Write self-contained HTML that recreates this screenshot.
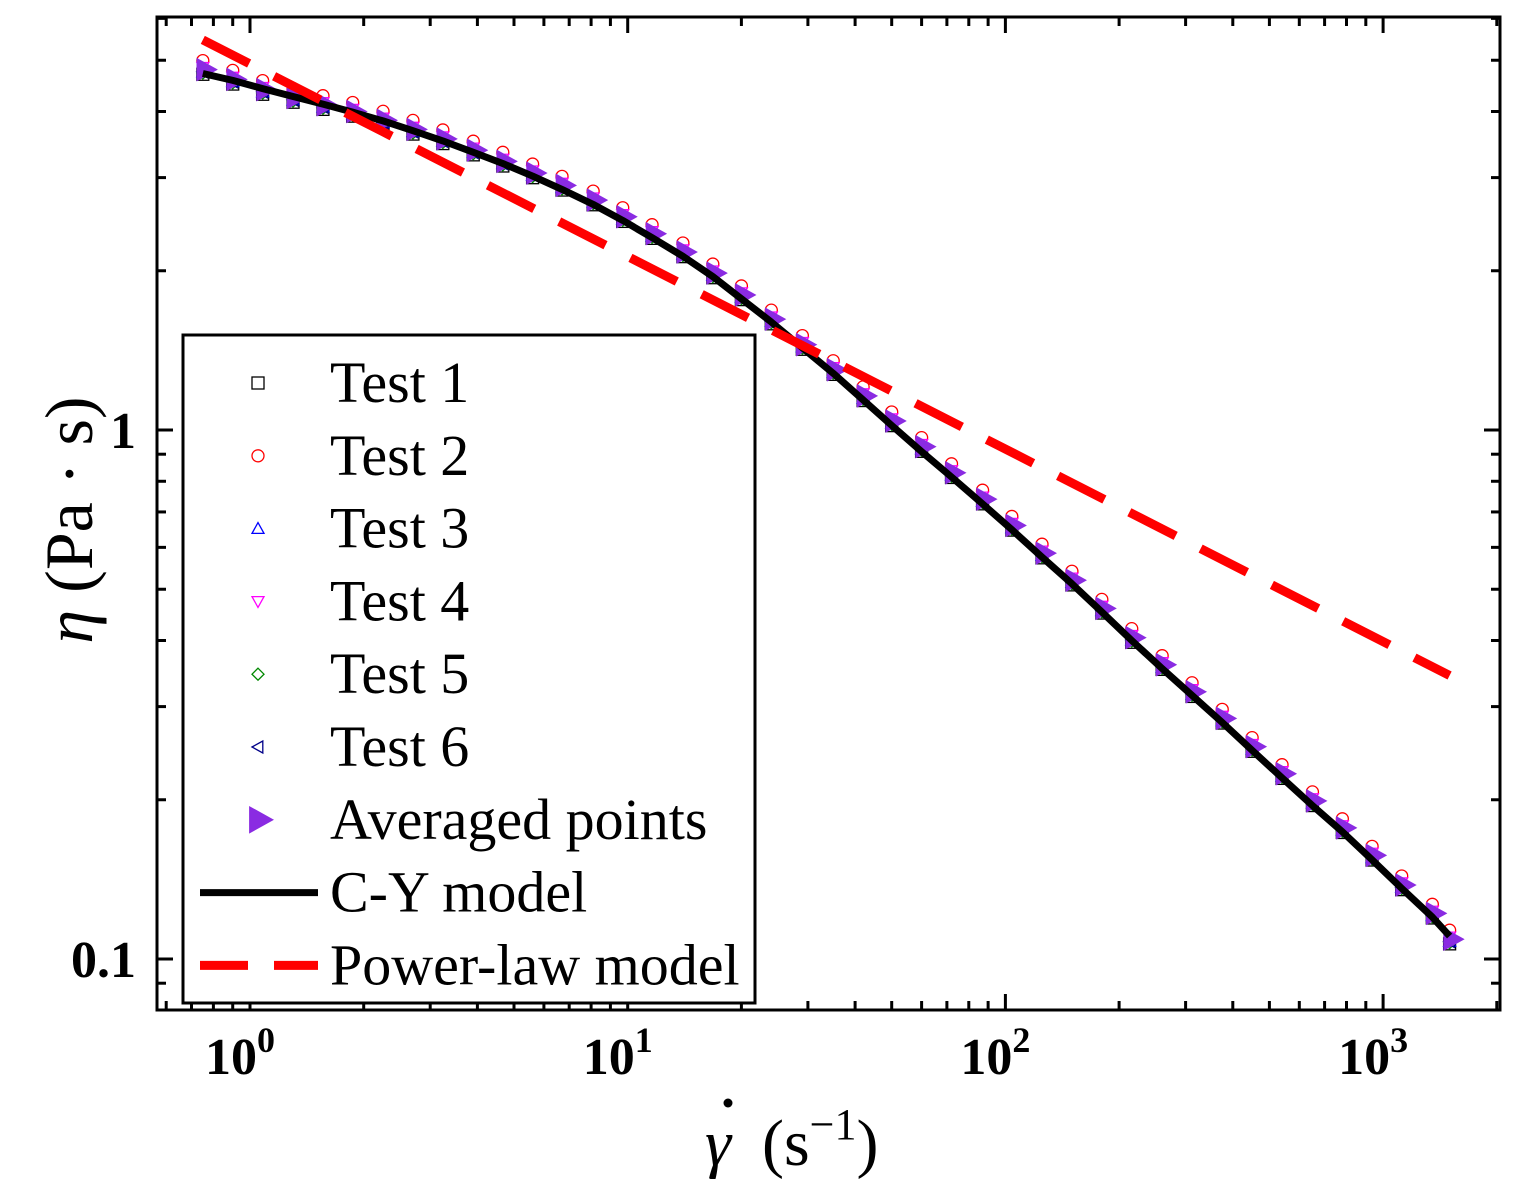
<!DOCTYPE html>
<html><head><meta charset="utf-8"><style>
body{margin:0;background:#fff}svg{display:block}
text{font-family:"Liberation Serif",serif}
</style></head><body>
<svg id="chart" width="1525" height="1203" xmlns="http://www.w3.org/2000/svg"></svg>
<script>
const shearRates=[0.75,0.9,1.08,1.3,1.56,1.87,2.25,2.7,3.24,3.9,4.67,5.6,6.7,8.1,9.7,11.6,14,16.8,20,24,29,35,42,50,60,72,87,104,125,150,180,216,260,312,375,450,540,650,780,935,1120,1350,1500];
const avgViscosity=[4.8,4.6,4.4,4.25,4.12,4.0,3.85,3.7,3.55,3.38,3.22,3.06,2.9,2.72,2.53,2.35,2.17,1.98,1.80,1.62,1.45,1.30,1.16,1.04,0.93,0.83,0.74,0.66,0.585,0.52,0.46,0.405,0.36,0.32,0.285,0.252,0.224,0.199,0.177,0.157,0.138,0.122,0.109];
const cyViscosity=[4.72,4.58,4.42,4.27,4.13,3.99,3.84,3.68,3.52,3.35,3.19,3.02,2.85,2.67,2.49,2.31,2.13,1.95,1.77,1.60,1.43,1.28,1.14,1.02,0.91,0.815,0.725,0.648,0.575,0.512,0.453,0.4,0.354,0.315,0.28,0.248,0.22,0.195,0.174,0.154,0.136,0.12,0.1105];
const testFactors=[0.98,1.04,0.99,1.01,0.985,0.99];
const powerLawK=[4.92];
const powerLawN=[0.636];
const powerLawRange=[0.75,1500];
const xTicks=[1,10,100,1000];
const xTickExp=["0","1","2","3"];
const yTicks=[0.1,1];
const yTickLabels=["0.1","1"];
const legendLabels=["Test 1","Test 2","Test 3","Test 4","Test 5","Test 6","Averaged points","C-Y model","Power-law model"];

const L=157,R=1500,T=17,B=1010;
const xs=v=>250+Math.log10(v)*377.7;
const ys=v=>430-Math.log10(v)*529;
const svg=document.getElementById('chart');
const NS='http://www.w3.org/2000/svg';
function mk(tag,attrs,parent){const e=document.createElementNS(NS,tag);for(const k in attrs)e.setAttribute(k,attrs[k]);(parent||svg).appendChild(e);return e;}

const tickG=mk('g',{});


for(let d=-1;d<=3;d++){for(let m=1;m<10;m++){const v=m*Math.pow(10,d);const x=xs(v);if(x<L||x>R)continue;const len=m===1?16:9;
mk('line',{x1:x,x2:x,y1:B,y2:B-len,stroke:'#000','stroke-width':3},tickG);mk('line',{x1:x,x2:x,y1:T,y2:T+len,stroke:'#000','stroke-width':3},tickG);}}
for(let d=-2;d<=1;d++){for(let m=1;m<10;m++){const v=m*Math.pow(10,d);const y=ys(v);if(y<T||y>B)continue;const len=m===1?16:9;
mk('line',{x1:L,x2:L+len,y1:y,y2:y,stroke:'#000','stroke-width':3},tickG);mk('line',{x1:R,x2:R-len,y1:y,y2:y,stroke:'#000','stroke-width':3},tickG);}}

xTicks.forEach((v,i)=>{const t=mk('text',{x:xs(v)-10,y:1074,'font-size':52,'font-weight':'bold','text-anchor':'middle'});


t.textContent='10';const s=mk('tspan',{dy:-22,'font-size':36},t);s.textContent=xTickExp[i];});
yTicks.forEach((v,i)=>{const t=mk('text',{x:136,y:ys(v)+18,'font-size':52,'font-weight':'bold','text-anchor':'end'});


t.textContent=yTickLabels[i];});

const xt=mk('g',{});


const g1=mk('text',{x:705,y:1165,'font-size':66,'font-style':'italic'},xt);g1.textContent='γ';
mk('circle',{cx:728,cy:1103,r:4.5,fill:'#000'},xt);
const g3=mk('text',{x:762,y:1165,'font-size':66},xt);g3.innerHTML='(s<tspan dy="-26" font-size="44">−1</tspan><tspan dy="26">)</tspan>';
const yt=mk('text',{x:0,y:0,'font-size':68,'text-anchor':'middle',transform:'translate(92,520) rotate(-90)'});


yt.innerHTML='<tspan font-style="italic">η</tspan> (Pa · s)';

const defs=mk('defs',{});const cp=mk('clipPath',{id:'clip'},defs);mk('rect',{x:L,y:T,width:R-L,height:B-T},cp);
const plot=mk('g',{'clip-path':'url(#clip)'});

function marker(g,type,x,y,color,size){
 const s=size||6;
 if(type==='square')return mk('rect',{x:x-s,y:y-s,width:2*s,height:2*s,fill:'none',stroke:color,'stroke-width':1.3},g);
 if(type==='circle')return mk('circle',{cx:x,cy:y,r:s,fill:'none',stroke:color,'stroke-width':1.3},g);
 if(type==='up')return mk('polygon',{points:`${x},${y-s} ${x-s},${y+s*0.8} ${x+s},${y+s*0.8}`,fill:'none',stroke:color,'stroke-width':1.3},g);
 if(type==='down')return mk('polygon',{points:`${x},${y+s} ${x-s},${y-s*0.8} ${x+s},${y-s*0.8}`,fill:'none',stroke:color,'stroke-width':1.3},g);
 if(type==='diamond')return mk('polygon',{points:`${x},${y-s} ${x+s},${y} ${x},${y+s} ${x-s},${y}`,fill:'none',stroke:color,'stroke-width':1.3},g);
 if(type==='left')return mk('polygon',{points:`${x-s},${y} ${x+s*0.8},${y-s} ${x+s*0.8},${y+s}`,fill:'none',stroke:color,'stroke-width':1.3},g);
 if(type==='right')return mk('polygon',{points:`${x+s},${y} ${x-s*0.8},${y-s} ${x-s*0.8},${y+s}`,fill:color,stroke:color,'stroke-width':1},g);
}
const types=['square','circle','up','down','diamond','left'];
const colors=['#000','#f00','#00f','#f0f','#080','#008'];
types.forEach((tp,k)=>{const g=mk('g',{},plot);
 
 
 shearRates.forEach((x,i)=>{marker(g,tp,xs(x),ys(avgViscosity[i]*testFactors[k]),colors[k],6);});});
const ag=mk('g',{},plot);


shearRates.forEach((x,i)=>{marker(ag,'right',xs(x)+3,ys(avgViscosity[i]),'#8a2be2',11);});

const cy=mk('polyline',{points:shearRates.map((x,i)=>xs(x)+','+ys(cyViscosity[i])).join(' '),fill:'none',stroke:'#000','stroke-width':7,'stroke-linejoin':'round'},plot);


const pl=mk('line',{x1:xs(powerLawRange[0]),y1:ys(powerLawK[0]*Math.pow(powerLawRange[0],powerLawN[0]-1)),x2:xs(powerLawRange[1]),y2:ys(powerLawK[0]*Math.pow(powerLawRange[1],powerLawN[0]-1)),stroke:'#f00','stroke-width':9,'stroke-dasharray':'52 28'},plot);



const fr=mk('rect',{x:L,y:T,width:R-L,height:B-T,fill:'none',stroke:'#000','stroke-width':3});



const lg=mk('g',{});


mk('rect',{x:183,y:335,width:572,height:668,fill:'#fff',stroke:'#000','stroke-width':3},lg);
legendLabels.forEach((lab,i)=>{const y=383+i*72.8;const e=mk('g',{},lg);
 
 
 if(i<6)marker(e,types[i],258,y,colors[i],6);
 else if(i===6)marker(e,'right',260,y,'#8a2be2',13);
 else if(i===7)mk('line',{x1:200,x2:318,y1:y,y2:y,stroke:'#000','stroke-width':7},e);
 else mk('line',{x1:200,x2:318,y1:y,y2:y,stroke:'#f00','stroke-width':9,'stroke-dasharray':'48 26'},e);
 const t=mk('text',{x:330,y:y+19,'font-size':58},e);t.textContent=lab;});
</script>
</body></html>
